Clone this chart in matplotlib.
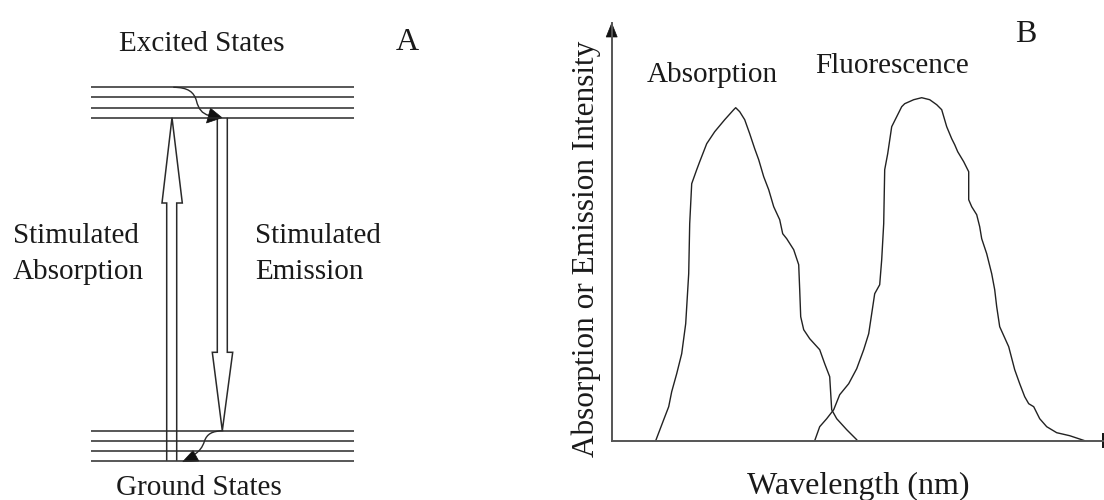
import matplotlib
matplotlib.use("Agg")
import matplotlib.pyplot as plt
from matplotlib.path import Path
from matplotlib.patches import PathPatch, Polygon

plt.rcParams['font.family'] = ['Liberation Serif', 'DejaVu Serif']

# ---- Panel B spectra (arbitrary wavelength / intensity units) ----
abs_wl = [44, 52, 57, 60, 65, 70, 74, 77, 78, 80, 85, 88, 95, 103, 113, 122, 124,
          128, 133, 138, 143, 147, 152, 157, 162, 168, 171, 175, 182, 187, 188, 189,
          192, 198, 208, 213, 218, 220, 225, 235, 245]
abs_int = [0, 21, 34, 49, 67, 87, 117, 167, 217, 257, 271, 279, 297, 309, 321, 331, 333,
           329, 321, 307, 292, 281, 264, 251, 234, 221, 207, 202, 191, 176, 151, 124,
           111, 102, 91, 77, 64, 31, 22, 11, 1]

fl_wl = [203, 208, 215, 222, 228, 237, 245, 252, 257, 260, 263, 268, 270, 272, 273, 276,
         280, 285, 290, 293, 302, 310, 318, 325, 330, 335, 340, 343, 346, 352, 357, 357,
         360, 365, 368, 370, 375, 380, 383, 385, 388, 397, 403, 408, 413, 417, 422, 428,
         435, 445, 458, 473]
fl_int = [0, 14, 22, 31, 46, 57, 72, 91, 107, 127, 147, 156, 181, 217, 271, 287,
          314, 324, 334, 337, 341, 343, 341, 336, 331, 314, 302, 296, 289, 279, 269, 241,
          234, 226, 214, 202, 187, 167, 151, 134, 114, 94, 71, 57, 44, 37, 34, 22,
          14, 8, 5, 0]

# ---- Panel A energy levels (figure pixel rows) ----
excited_levels = [87.3, 97.3, 107.7, 117.7]
ground_levels = [430.7, 440.7, 450.7, 460.7]
level_x = (91, 354)

W, H = 1104, 500
fig = plt.figure(figsize=(W / 100, H / 100), dpi=100)

# Canvas axes in pixel units for the energy-level diagram and labels
ax = fig.add_axes([0, 0, 1, 1])
ax.set_xlim(0, W)
ax.set_ylim(H, 0)
ax.axis('off')

line_c = '#2a2a2a'
for y in excited_levels + ground_levels:
    ax.plot(level_x, [y, y], color=line_c, lw=1.1, solid_capstyle='butt')

# Absorption arrow (up), outline only
up = [(166.7, ground_levels[-1]), (166.7, 203), (162, 203), (172, excited_levels[-1]),
      (182.3, 203), (176.7, 203), (176.7, ground_levels[-1])]
ax.add_patch(Polygon(up, closed=False, fill=False, ec=line_c, lw=1.1, joinstyle='miter'))

# Emission arrow (down), outline only
down = [(217.3, excited_levels[-1]), (217.3, 352.3), (212.3, 352.3), (222.3, ground_levels[0]),
        (232.7, 352.3), (227.3, 352.3), (227.3, excited_levels[-1])]
ax.add_patch(Polygon(down, closed=False, fill=False, ec=line_c, lw=1.1, joinstyle='miter'))

# Vibrational relaxation in the excited manifold
relax_top = Path([(173.3, 87.3), (188, 87.3), (194, 92), (196.5, 101),
                  (198.5, 109), (202, 113.5), (209, 115.5)],
                 [Path.MOVETO, Path.CURVE4, Path.CURVE4, Path.CURVE4,
                  Path.CURVE4, Path.CURVE4, Path.CURVE4])
ax.add_patch(PathPatch(relax_top, fill=False, ec=line_c, lw=1.0))
ax.add_patch(Polygon([(222, 117.7), (210.5, 108.3), (206.5, 123)],
                     closed=True, fc='#111111', ec='#111111', lw=0.5))

# Vibrational relaxation in the ground manifold
relax_bot = Path([(223.3, 430.7), (212, 431), (207, 434), (204.5, 441),
                  (202.5, 447.5), (199, 451.5), (195, 454)],
                 [Path.MOVETO, Path.CURVE4, Path.CURVE4, Path.CURVE4,
                  Path.CURVE4, Path.CURVE4, Path.CURVE4])
ax.add_patch(PathPatch(relax_bot, fill=False, ec=line_c, lw=1.0))
ax.add_patch(Polygon([(182.8, 461.7), (193, 450.6), (198.8, 461)],
                     closed=True, fc='#111111', ec='#111111', lw=0.5))

fs = 21
tc = '#1a1a1a'
ax.text(202, 51, 'Excited States', fontsize=fs, ha='center', va='baseline', color=tc)
ax.text(407, 50, 'A', fontsize=23, ha='center', va='baseline', color=tc)
ax.text(13, 243.3, 'Stimulated', fontsize=fs, ha='left', va='baseline', color=tc)
ax.text(13, 279, 'Absorption', fontsize=fs, ha='left', va='baseline', color=tc)
ax.text(255, 243.3, 'Stimulated', fontsize=fs, ha='left', va='baseline', color=tc)
ax.text(255, 279, 'Emission', fontsize=fs, ha='left', va='baseline', color=tc)
ax.text(198.5, 495, 'Ground States', fontsize=fs, ha='center', va='baseline', color=tc)

ax.text(1026, 42, 'B', fontsize=23, ha='center', va='baseline', color=tc)
ax.text(647, 82, 'Absorption', fontsize=fs, ha='left', va='baseline', color=tc)
ax.text(815, 73, 'Fluorescence', fontsize=fs, ha='left', va='baseline', color=tc)
ax.text(586, 249, 'Absorption or Emission Intensity', fontsize=22.5, rotation=90,
        ha='center', va='center', color=tc)
ax.text(858, 494, 'Wavelength (nm)', fontsize=23, ha='center', va='baseline', color=tc)

# ---- Panel B spectra axes ----
x0, x1 = 611.7, 1103.3
y_bot, y_top = 440.7, 23.3
axB = fig.add_axes([x0 / W, (H - y_bot) / H, (x1 - x0) / W, (y_bot - y_top) / H])
axB.set_xlim(0, x1 - x0)
axB.set_ylim(0, y_bot - y_top)
axB.patch.set_alpha(0)
for s in ('top', 'right'):
    axB.spines[s].set_visible(False)
for s in ('left', 'bottom'):
    axB.spines[s].set_color('#555555')
    axB.spines[s].set_linewidth(1.4)
axB.set_xticks([])
axB.set_yticks([])

axB.plot(abs_wl, abs_int, color='#222222', lw=1.0)
axB.plot(fl_wl, fl_int, color='#222222', lw=1.0)

# Arrowhead on intensity axis and end stop on wavelength axis
ax.add_patch(Polygon([(611.7, 23.3), (606.2, 37), (617.2, 37)], closed=True,
                     fc='#111111', ec='#111111', lw=0.5))
ax.plot([1103.3, 1103.3], [434, 447], color='#111111', lw=1.4)

fig.savefig('out.png', dpi=100)
